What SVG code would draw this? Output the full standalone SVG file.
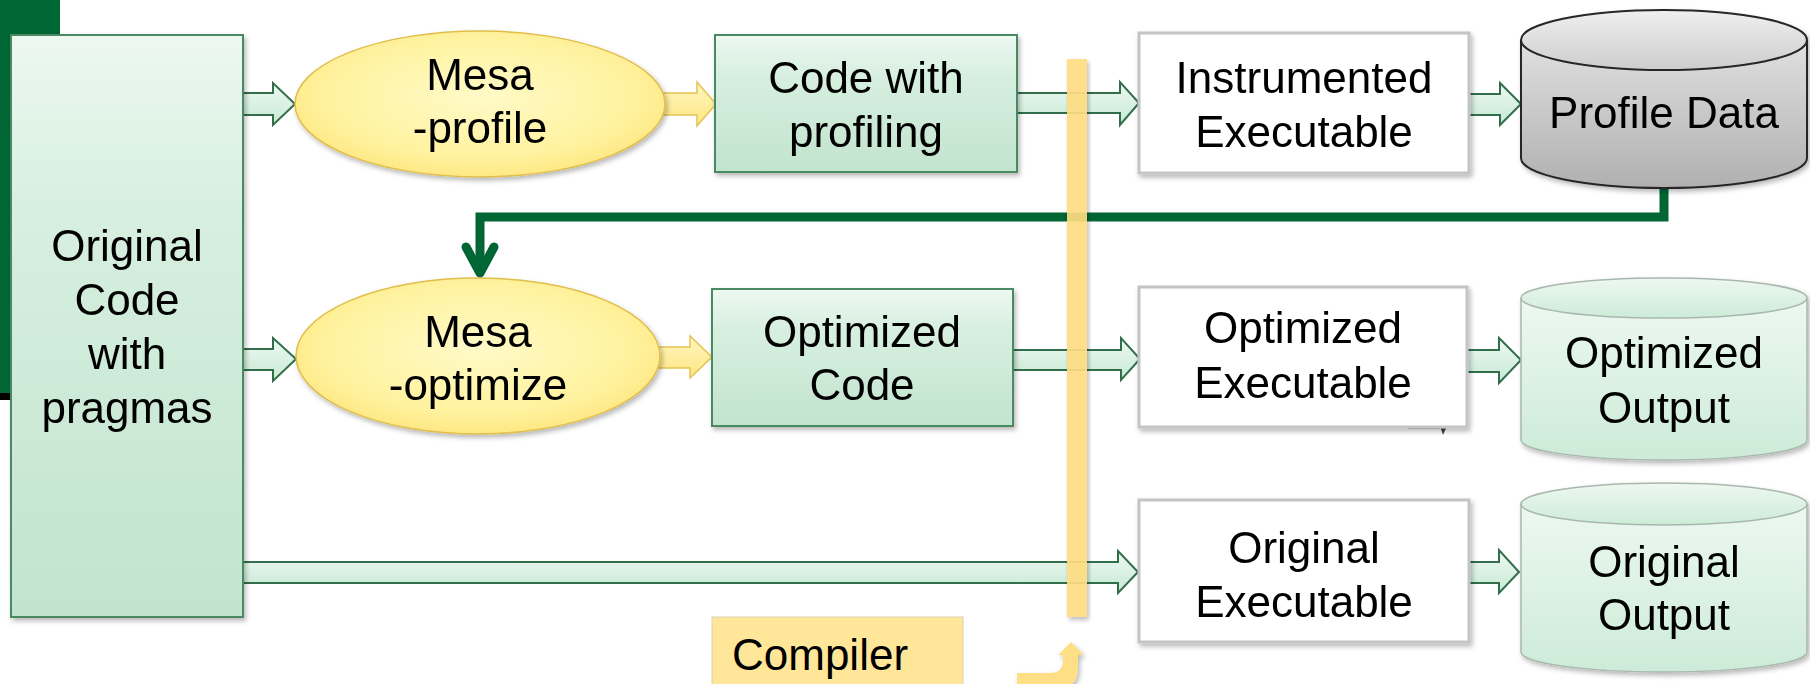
<svg xmlns="http://www.w3.org/2000/svg" width="1810" height="684" viewBox="0 0 1810 684">
<defs>
<linearGradient id="gBox" x1="0" y1="0" x2="0" y2="1"><stop offset="0" stop-color="#EDF8F1"/><stop offset="0.3" stop-color="#D7EFE0"/><stop offset="1" stop-color="#C2E4CE"/></linearGradient>
<linearGradient id="gArrow" x1="0" y1="0" x2="0" y2="1"><stop offset="0" stop-color="#EFF9F3"/><stop offset="1" stop-color="#C6E9D3"/></linearGradient>
<linearGradient id="gYArrow" x1="0" y1="0" x2="0" y2="1"><stop offset="0" stop-color="#FFF6C0"/><stop offset="1" stop-color="#FFE680"/></linearGradient>
<radialGradient id="gEll" cx="0.5" cy="0.45" r="0.6"><stop offset="0" stop-color="#FFFAC8"/><stop offset="0.7" stop-color="#FFF29E"/><stop offset="1" stop-color="#FFE47A"/></radialGradient>
<linearGradient id="gGray" x1="0" y1="0" x2="0" y2="1"><stop offset="0" stop-color="#E0E0E0"/><stop offset="1" stop-color="#B0B0B0"/></linearGradient>
<linearGradient id="gGrayTop" x1="0" y1="0" x2="0" y2="1"><stop offset="0" stop-color="#EFEFEF"/><stop offset="1" stop-color="#CDCDCD"/></linearGradient>
<linearGradient id="gCyl" x1="0" y1="0" x2="0" y2="1"><stop offset="0" stop-color="#EDF8F1"/><stop offset="1" stop-color="#CDEBD8"/></linearGradient>
<filter id="sh" x="-10%" y="-10%" width="130%" height="130%"><feDropShadow dx="2" dy="3" stdDeviation="2.5" flood-color="#000" flood-opacity="0.28"/></filter>
<style>
text{font-family:"Liberation Sans",Arial,sans-serif;font-size:44px;fill:#000;text-anchor:middle}
.gbox{fill:url(#gBox);stroke:#4A8A62;stroke-width:2}
.ell{fill:url(#gEll);stroke:#E0BE4A;stroke-width:1.5}
.exe{fill:#FFFFFF;stroke:#C4C4C4;stroke-width:3}
.cyl{fill:url(#gCyl);stroke:#A9B8AE;stroke-width:1.5}
.garr{fill:url(#gArrow);stroke:#336E4A;stroke-width:2;stroke-linejoin:miter}
.yarr{fill:url(#gYArrow);stroke:#E5C253;stroke-width:1.5}
</style>
</defs>
<rect width="1810" height="684" fill="#FFFFFF"/>
<rect x="0" y="0" width="60" height="393" fill="#006634"/>
<rect x="0" y="393" width="12" height="7" fill="#000"/>

<g id="connectors">
<path class="garr" d="M243,93 H273 V83 L295,104 L273,125 V115 H243 Z"/>
<path class="garr" d="M243,349 H273 V338 L296,359 L273,381 V370 H243 Z"/>
<path class="garr" d="M243,562 H1118 V551 L1138,572 L1118,593 V583 H243 Z"/>
<path class="yarr" d="M663,93 H697 V82 L716,104 L697,126 V115 H663 Z"/>
<path class="yarr" d="M657,347 H690 V336 L712,357 L690,378 V368 H657 Z"/>
<path class="garr" d="M1017,93 H1120 V82 L1139,103 L1120,125 V113 H1017 Z"/>
<path class="garr" d="M1013,350 H1121 V338 L1140,359 L1121,380 V370 H1013 Z"/>
<path class="garr" d="M1469,94 H1500 V83 L1521,104 L1500,125 V115 H1469 Z"/>
<path class="garr" d="M1467,350 H1499 V338 L1521,360 L1499,383 V372 H1467 Z"/>
<path class="garr" d="M1469,562 H1499 V550 L1519,572 L1499,593 V583 H1469 Z"/>
<path d="M1664,186 V217 H480 V272" fill="none" stroke="#006633" stroke-width="9" stroke-linejoin="miter"/>
<path d="M466,247 L480,273 L494,247" fill="none" stroke="#006633" stroke-width="9" stroke-linecap="round" stroke-linejoin="round"/>
<path d="M1017,673 H1050 Q1063,673 1063,660 V655 H1058 L1071,642 L1084,655 H1078 V666 Q1078,690 1054,690 H1017 Z" fill="#FFDF86" filter="url(#sh)"/>
<path d="M1408,428 H1440" stroke="#7F7F7F" stroke-width="1.5" fill="none"/>
<path d="M1440,426 L1447,426 L1443,435 Z" fill="#404040"/>
</g>

<rect id="compiler-bar" x="1067" y="59" width="20" height="558" fill="#FFDD82" opacity="0.92" filter="url(#sh)"/>

<g id="original-code" filter="url(#sh)">
<rect class="gbox" x="11" y="35" width="232" height="582"/>
<text x="127" y="261">Original</text>
<text x="127" y="315">Code</text>
<text x="127" y="369">with</text>
<text x="127" y="423">pragmas</text>
</g>

<g id="mesa-profile" filter="url(#sh)">
<ellipse class="ell" cx="480" cy="104" rx="185" ry="73"/>
<text x="480" y="90">Mesa</text>
<text x="480" y="143">-profile</text>
</g>

<g id="code-with-profiling" filter="url(#sh)">
<rect class="gbox" x="715" y="35" width="302" height="137"/>
<text x="866" y="93">Code with</text>
<text x="866" y="147">profiling</text>
</g>

<g id="instrumented-executable" filter="url(#sh)">
<rect class="exe" x="1139" y="33" width="330" height="140"/>
<text x="1304" y="93">Instrumented</text>
<text x="1304" y="147">Executable</text>
</g>

<g id="profile-data" filter="url(#sh)">
<path d="M1521,40 V158 A143,30 0 0 0 1807,158 V40" fill="url(#gGray)" stroke="#262626" stroke-width="2"/>
<ellipse cx="1664" cy="40" rx="143" ry="30" fill="url(#gGrayTop)" stroke="#262626" stroke-width="2"/>
<text x="1664" y="128">Profile Data</text>
</g>

<g id="mesa-optimize" filter="url(#sh)">
<ellipse class="ell" cx="478" cy="356" rx="182" ry="78"/>
<text x="478" y="347">Mesa</text>
<text x="478" y="400">-optimize</text>
</g>

<g id="optimized-code" filter="url(#sh)">
<rect class="gbox" x="712" y="289" width="301" height="137"/>
<text x="862" y="347">Optimized</text>
<text x="862" y="400">Code</text>
</g>

<g id="optimized-executable" filter="url(#sh)">
<rect class="exe" x="1139" y="287" width="328" height="140"/>
<text x="1303" y="343">Optimized</text>
<text x="1303" y="398">Executable</text>
</g>

<g id="optimized-output" filter="url(#sh)">
<path class="cyl" d="M1521,298 V440 A143,20 0 0 0 1807,440 V298"/>
<ellipse class="cyl" cx="1664" cy="298" rx="143" ry="20"/>
<text x="1664" y="368">Optimized</text>
<text x="1664" y="423">Output</text>
</g>

<g id="original-executable" filter="url(#sh)">
<rect class="exe" x="1139" y="500" width="330" height="142"/>
<text x="1304" y="563">Original</text>
<text x="1304" y="617">Executable</text>
</g>

<g id="original-output" filter="url(#sh)">
<path class="cyl" d="M1521,504 V652 A143,20 0 0 0 1807,652 V504"/>
<ellipse class="cyl" cx="1664" cy="504" rx="143" ry="21"/>
<text x="1664" y="577">Original</text>
<text x="1664" y="630">Output</text>
</g>

<g id="compiler-label">
<rect x="712" y="617" width="251" height="80" fill="#FFE699" stroke="#D9D2B0" stroke-width="1"/>
<text x="732" y="670" style="text-anchor:start">Compiler</text>
</g>
</svg>
